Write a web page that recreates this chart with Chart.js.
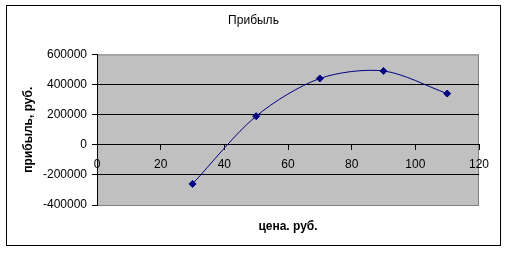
<!DOCTYPE html>
<html>
<head>
<meta charset="utf-8">
<script src="https://cdn.jsdelivr.net/npm/chart.js@4/dist/chart.umd.min.js"></script>
<style>
  html, body { margin: 0; padding: 0; background: #fff; }
  #wrap { width: 507px; height: 253px; }
</style>
</head>
<body>
<div id="wrap"><canvas id="myChart" width="507" height="253"></canvas></div>
<script>
// price (x) and profit (y)
const prices = [30, 50, 70, 90, 110];
const profits = [-260000, 190000, 440000, 490000, 340000];
const xTicks = [0, 20, 40, 60, 80, 100, 120];
const yTicks = [-400000, -200000, 0, 200000, 400000, 600000];

const points = [];
for (let i = 0; i < prices.length; i++) {
  points.push({ x: prices[i], y: profits[i] });
}

const font = 'Liberation Sans, Arial, sans-serif';

// white page, outer frame, grey plot area, x title
const excelFrame = {
  id: 'excelFrame',
  beforeDraw(chart) {
    const ctx = chart.ctx;
    const a = chart.chartArea;
    ctx.save();
    ctx.fillStyle = '#fff';
    ctx.fillRect(0, 0, chart.width, chart.height);
    ctx.strokeStyle = '#000';
    ctx.lineWidth = 1;
    ctx.strokeRect(6.5, 5.5, 494, 240);
    ctx.fillStyle = '#c0c0c0';
    ctx.fillRect(a.left, a.top, a.right - a.left, a.bottom - a.top);
    ctx.strokeStyle = '#808080';
    ctx.strokeRect(a.left + 0.5, a.top + 0.5, a.right - a.left - 1, a.bottom - a.top);
    ctx.restore();
  },
  afterDraw(chart) {
    const ctx = chart.ctx;
    const a = chart.chartArea;
    ctx.save();
    ctx.font = 'bold 12px ' + font;
    ctx.fillStyle = '#000';
    ctx.textAlign = 'center';
    ctx.textBaseline = 'middle';
    ctx.fillText('цена. руб.', (a.left + a.right) / 2, 227);
    ctx.restore();
  },
};

const data = {
  datasets: [
    {
      label: 'Прибыль',
      data: points,
      showLine: true,
      borderColor: '#000080',
      backgroundColor: '#000080',
      borderWidth: 1,
      tension: 0.3,
      pointStyle: 'rectRot',
      pointRadius: 3.5,
      pointHoverRadius: 3.5,
    },
  ],
};

const config = {
  type: 'scatter',
  data: data,
  plugins: [excelFrame],
  options: {
    responsive: false,
    animation: false,
    layout: { padding: { left: 28, right: 28, top: 0, bottom: 48 } },
    plugins: {
      legend: { display: false },
      tooltip: { enabled: false },
      title: {
        display: true,
        text: 'Прибыль',
        color: '#000',
        font: { family: font, size: 12, weight: 'normal' },
        padding: { top: 13, bottom: 27 },
      },
    },
    scales: {
      x: {
        type: 'linear',
        position: { y: 0 },
        min: 0,
        max: 120,
        afterBuildTicks: (axis) => {
          axis.ticks = xTicks.map((v) => ({ value: v }));
        },
        grid: { drawOnChartArea: false, drawTicks: true, tickLength: 5, color: '#000' },
        border: { color: '#000' },
        ticks: { color: '#000', padding: 8, maxRotation: 0, font: { family: font, size: 12 } },
      },
      y: {
        type: 'linear',
        min: -400000,
        max: 600000,
        afterBuildTicks: (axis) => {
          axis.ticks = yTicks.map((v) => ({ value: v }));
        },
        afterFit: (axis) => {
          axis.width = 69;
        },
        grid: {
          color: (c) => (c.tick && (c.tick.value === 600000 || c.tick.value === -400000) ? 'rgba(0,0,0,0)' : '#000'),
          tickColor: '#000',
          tickLength: 5,
        },
        border: { color: '#000' },
        ticks: {
          color: '#000',
          padding: 5,
          font: { family: font, size: 12 },
          callback: (v) => String(v),
        },
        title: {
          display: true,
          text: 'прибыль, руб.',
          color: '#000',
          font: { family: font, size: 12, weight: 'bold' },
          padding: { top: -7, bottom: 0 },
        },
      },
    },
  },
};

const myChart = new Chart(document.getElementById('myChart'), config);
</script>
</body>
</html>
